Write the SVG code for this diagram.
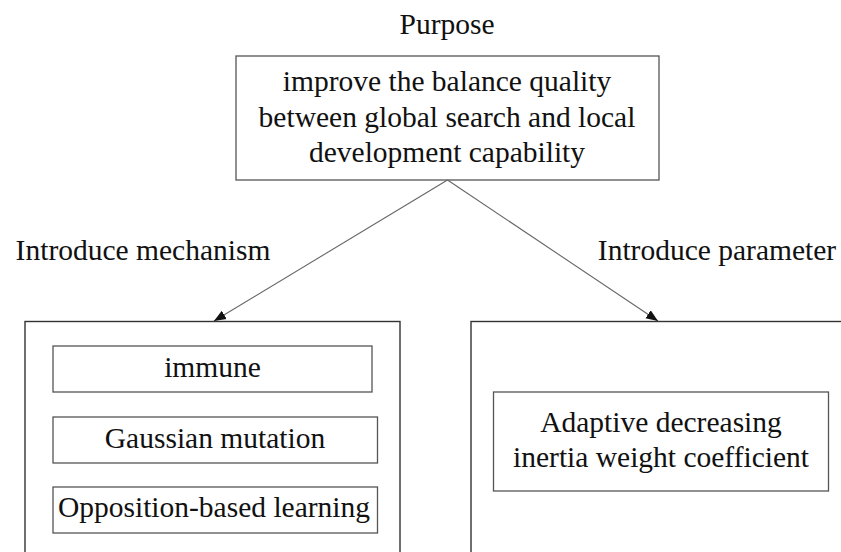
<svg xmlns="http://www.w3.org/2000/svg" width="841" height="552" viewBox="0 0 841 552">
<style>
  text { font-family: "Liberation Serif", "Times New Roman", serif; font-size: 29.5px; fill: #111; text-anchor: middle; }
  .box { fill: #fff; stroke: #555; stroke-width: 1.3; }
  .outer { fill: none; stroke: #333; stroke-width: 1.4; }
  .conn { stroke: #666; stroke-width: 1.1; fill: none; marker-end: url(#arrow); }
</style>
<defs>
  <marker id="arrow" viewBox="0 0 10 10" refX="10" refY="5" markerWidth="12" markerHeight="12" markerUnits="userSpaceOnUse" orient="auto">
    <path d="M0,1 L10,5 L0,9 z" fill="#111"/>
  </marker>
</defs>
<rect width="841" height="552" fill="#fff"/>

<g id="purpose-label"><text x="447" y="34">Purpose</text></g>

<g id="purpose">
  <rect class="box" x="236" y="56" width="423" height="124"/>
  <text x="447" y="91">improve the balance quality</text>
  <text x="447" y="126.5">between global search and local</text>
  <text x="447" y="161.5">development capability</text>
</g>

<g id="label-mechanism"><text x="143" y="260">Introduce mechanism</text></g>
<g id="label-parameter"><text x="717" y="260">Introduce parameter</text></g>

<g id="connectors">
  <line class="conn" x1="447.5" y1="180" x2="214" y2="321"/>
  <line class="conn" x1="447.5" y1="180" x2="658" y2="321"/>
</g>

<g id="mechanism">
  <rect class="outer" x="25" y="321.5" width="375" height="250"/>
  <g id="immune">
    <rect class="box" x="53" y="346" width="319" height="46"/>
    <text x="212.5" y="377">immune</text>
  </g>
  <g id="gaussian">
    <rect class="box" x="53" y="417" width="324.5" height="46"/>
    <text x="215" y="448">Gaussian mutation</text>
  </g>
  <g id="obl">
    <rect class="box" x="53" y="487" width="324.5" height="46"/>
    <text x="214" y="517">Opposition-based learning</text>
  </g>
</g>

<g id="parameter">
  <rect class="outer" x="471" y="321.5" width="390" height="250"/>
  <g id="adaptive">
    <rect class="box" x="493.5" y="392" width="335" height="99"/>
    <text x="661" y="432">Adaptive decreasing</text>
    <text x="661" y="467">inertia weight coefficient</text>
  </g>
</g>
</svg>
